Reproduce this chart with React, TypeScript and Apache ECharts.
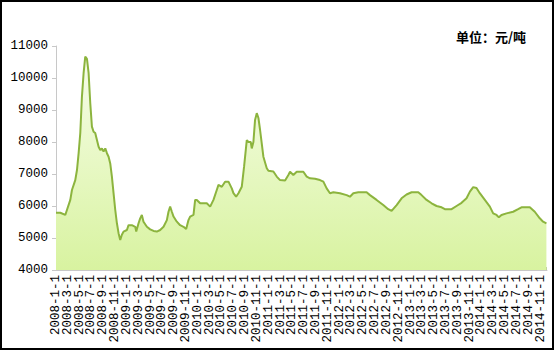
import React, { useEffect, useRef } from "react";
import * as echarts from "echarts";

// month index from 2008-1 (0) ; price in 元/吨
const months: number[] = [
  0.0, 0.73, 1.57, 1.85, 2.42, 2.7, 3.26, 3.55, 3.83, 4.11, 4.39, 4.67, 4.95, 5.24, 5.52, 5.8,
  6.08, 6.36, 6.64, 6.93, 7.21, 7.49, 7.77, 8.05, 8.34, 8.62, 8.9, 9.18, 9.46, 9.74, 10.03,
  10.31, 10.59, 10.87, 11.15, 11.43, 12.0, 12.28, 12.84, 13.41, 13.58, 13.97, 14.25, 14.53,
  14.81, 15.38, 15.94, 16.51, 17.07, 17.63, 18.2, 18.76, 19.04, 19.32, 19.61, 19.89, 20.45,
  21.01, 21.58, 22.03, 22.42, 22.7, 23.27, 23.55, 23.83, 24.4, 25.52, 26.09, 26.65, 27.21,
  27.5, 28.06, 28.62, 29.19, 29.75, 30.03, 30.48, 30.88, 31.44, 31.83, 32.29, 32.57, 32.96,
  33.13, 33.41, 33.69, 33.98, 34.26, 34.54, 34.82, 35.1, 35.67, 35.95, 36.79, 37.36, 37.92,
  38.77, 39.33, 39.61, 40.17, 40.74, 41.86, 42.43, 42.99, 43.84, 44.68, 45.25, 45.81, 46.37,
  46.94, 48.06, 49.19, 49.75, 50.32, 51.16, 52.57, 53.14, 54.26, 55.39, 56.23, 56.8, 57.65,
  58.49, 59.33, 60.18, 61.31, 61.87, 62.72, 63.57, 64.41, 65.26, 65.82, 66.95, 67.79, 68.64,
  69.48, 70.05, 70.61, 71.17, 71.73, 72.58, 73.43, 73.99, 74.56, 74.95, 75.4, 76.24, 77.37,
  78.21, 78.78, 80.19, 81.03, 81.88, 82.44, 83.0,
];

const prices: number[] = [
  5790, 5790, 5720, 5875, 6190, 6500, 6810, 7125, 7650, 8280, 9420, 10150, 10670, 10600, 10150, 9210,
  8480, 8320, 8280, 8060, 7850, 7750, 7800, 7700, 7800, 7650, 7540, 7330, 6920, 6400, 5875,
  5460, 5150, 4940, 5100, 5200, 5250, 5400, 5400, 5350, 5200, 5460, 5615, 5720,
  5510, 5350, 5270, 5220, 5200, 5250, 5350, 5560, 5820, 5980, 5820, 5670, 5510,
  5400, 5350, 5280, 5560, 5670, 5720, 6190, 6190, 6085, 6085, 5980, 6190, 6500,
  6660, 6600, 6760, 6760, 6550, 6400, 6290, 6400, 6600, 7230, 8060, 8000, 8000,
  7800, 8000, 8690, 8900, 8750, 8375, 7960, 7540, 7180, 7100, 7080, 6920, 6810,
  6800, 6970, 7070, 6970, 7070, 7070, 6920, 6865, 6850, 6810, 6760, 6550, 6400,
  6430, 6400, 6340, 6290, 6400, 6430, 6430, 6340, 6190, 6030, 5900, 5845, 6030,
  6240, 6360, 6430, 6430, 6340, 6190, 6085, 6000, 5960, 5900, 5900, 6000, 6100,
  6240, 6450, 6590, 6560, 6400, 6190, 5980, 5770, 5720, 5645, 5720, 5770, 5820,
  5900, 5960, 5960, 5820, 5615, 5510, 5460,
];

const xLabels: string[] = [
  "2008-1-1", "2008-3-1", "2008-5-1", "2008-7-1", "2008-9-1", "2008-11-1",
  "2009-1-1", "2009-3-1", "2009-5-1", "2009-7-1", "2009-9-1", "2009-11-1",
  "2010-1-1", "2010-3-1", "2010-5-1", "2010-7-1", "2010-9-1", "2010-11-1",
  "2011-1-1", "2011-3-1", "2011-5-1", "2011-7-1", "2011-9-1", "2011-11-1",
  "2012-1-1", "2012-3-1", "2012-5-1", "2012-7-1", "2012-9-1", "2012-11-1",
  "2013-1-1", "2013-3-1", "2013-5-1", "2013-7-1", "2013-9-1", "2013-11-1",
  "2014-1-1", "2014-3-1", "2014-5-1", "2014-7-1", "2014-9-1", "2014-11-1",
];

const yTicks: number[] = [4000, 5000, 6000, 7000, 8000, 9000, 10000, 11000];
const unitText = "单位：元/吨";

export default function App() {
  const ref = useRef<HTMLDivElement>(null);
  useEffect(() => {
    document.body.style.margin = "0";
    if (!ref.current) return;
    const chart = echarts.init(ref.current, null, { renderer: "svg" });
    const data = months.map((m, i) => [m, prices[i]]);
    chart.setOption({
      animation: false,
      backgroundColor: "#ffffff",
      grid: { left: 56, right: 7, top: 46, bottom: 80 },
      xAxis: {
        type: "value",
        min: 0,
        max: 83.1,
        interval: 1,
        splitLine: { show: false },
        axisLine: { show: true, lineStyle: { color: "#c8c8c8", width: 1 } },
        axisTick: { show: true, inside: true, length: 3, lineStyle: { color: "#b4c49a" } },
        axisLabel: {
          rotate: 90,
          showMinLabel: true,
          showMaxLabel: false,
          hideOverlap: false,
          margin: 5,
          color: "#000",
          fontSize: 12.5,
          fontFamily: "Liberation Mono",
          formatter: (v: number) => {
            const k = Math.round(v / 2);
            if (Math.abs(v - k * 2) > 1e-6) return "";
            return xLabels[k] ?? "";
          },
        },
      },
      yAxis: {
        type: "value",
        min: yTicks[0],
        max: yTicks[yTicks.length - 1],
        interval: 1000,
        splitLine: { show: false },
        axisLine: { show: true, lineStyle: { color: "#c8c8c8", width: 1 } },
        axisTick: { show: true, length: 4, lineStyle: { color: "#c8c8c8" } },
        axisLabel: {
          color: "#000",
          fontSize: 12.5,
          fontFamily: "Liberation Mono",
          margin: 8,
          formatter: (v: number) => String(v),
        },
      },
      series: [
        {
          type: "line",
          data,
          showSymbol: false,
          symbol: "none",
          lineStyle: { color: "#8cb43e", width: 2 },
          areaStyle: {
            origin: "start",
            color: new echarts.graphic.LinearGradient(0, 0, 0, 1, [
              { offset: 0, color: "#f7fde9" },
              { offset: 1, color: "#d8f3a0" },
            ]),
            opacity: 1,
          },
        },
      ],
      graphic: [
        {
          type: "rect",
          shape: { x: 1, y: 1, width: 552, height: 348 },
          style: { fill: "none", stroke: "#000", lineWidth: 2 },
          silent: true,
        },
        {
          type: "text",
          x: 456,
          y: 30,
          style: {
            text: unitText,
            fill: "#000",
            font: "bold 13px 'Noto Sans CJK SC'",
          },
        },
      ],
    });
    return () => chart.dispose();
  }, []);
  return <div ref={ref} style={{ width: 554, height: 350 }} />;
}
